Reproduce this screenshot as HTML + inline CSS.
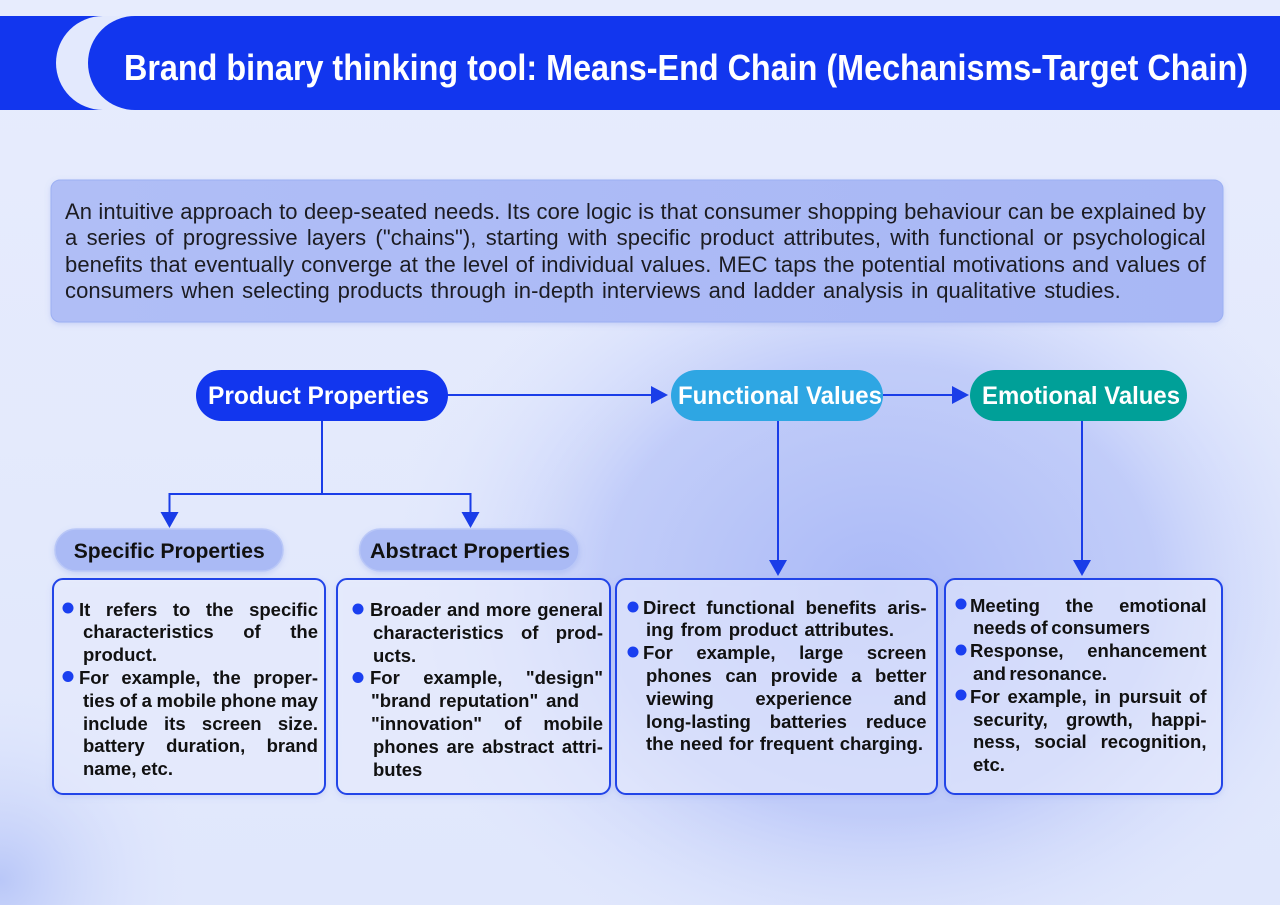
<!DOCTYPE html>
<html><head><meta charset="utf-8">
<style>
html,body{margin:0;padding:0;}
body{width:1280px;height:905px;position:relative;overflow:hidden;background:#e6ebfd;font-family:"Liberation Sans",sans-serif;}
svg{position:absolute;left:0;top:0;}
.l{position:absolute;height:23px;line-height:23px;font-weight:bold;font-size:18.5px;color:#111;white-space:nowrap;}
.j{display:flex;justify-content:space-between;}
.j span{white-space:nowrap;}
.d{position:absolute;height:26px;line-height:26px;font-size:22px;letter-spacing:0.1px;color:#1c1c22;white-space:nowrap;}
</style></head>
<body>
<svg width="1280" height="905" viewBox="0 0 1280 905" xmlns="http://www.w3.org/2000/svg">
<defs>
<linearGradient id="bg" x1="0" y1="0" x2="0" y2="1">
<stop offset="0" stop-color="#e7ecfd"/><stop offset="1" stop-color="#e0e7fc"/>
</linearGradient>
<radialGradient id="g1" cx="880" cy="590" r="460" gradientUnits="userSpaceOnUse" gradientTransform="translate(880 590) scale(1.1 0.9) translate(-880 -590)">
<stop offset="0" stop-color="#aab9f7" stop-opacity="1"/>
<stop offset="0.55" stop-color="#b6c3f8" stop-opacity="0.75"/>
<stop offset="1" stop-color="#e3e9fd" stop-opacity="0"/>
</radialGradient>
<radialGradient id="g2" cx="0" cy="880" r="210" gradientUnits="userSpaceOnUse">
<stop offset="0" stop-color="#b9c7f8" stop-opacity="1"/>
<stop offset="1" stop-color="#e3e9fd" stop-opacity="0"/>
</radialGradient>
<linearGradient id="desc" x1="0" y1="0" x2="1" y2="0">
<stop offset="0" stop-color="#b0bef6"/><stop offset="1" stop-color="#a8b7f5"/>
</linearGradient>
<filter id="sh" x="-10%" y="-20%" width="120%" height="150%">
<feDropShadow dx="0" dy="2" stdDeviation="3" flood-color="#6f86e0" flood-opacity="0.25"/>
</filter>
</defs>
<rect width="1280" height="905" fill="url(#bg)"/>
<rect width="1280" height="905" fill="url(#g1)"/>
<rect width="1280" height="905" fill="url(#g2)"/>

<!-- header -->
<rect x="0" y="16" width="120" height="94" fill="#1236ee"/>
<path d="M103 16 H1280 V110 H103 A47 47 0 0 1 103 16 Z" fill="#e3e9fd"/>
<path d="M135 16 H1280 V110 H135 A47 47 0 0 1 135 16 Z" fill="#1236ee"/>
<text x="124" y="80" font-family="Liberation Sans, sans-serif" font-weight="bold" font-size="36" fill="#ffffff" textLength="1124" lengthAdjust="spacingAndGlyphs">Brand binary thinking tool: Means-End Chain (Mechanisms-Target Chain)</text>

<!-- description box -->
<rect x="51" y="180" width="1172" height="142" rx="9" fill="url(#desc)" stroke="#9cb0f3" stroke-width="1" filter="url(#sh)"/>

<!-- connectors -->
<g stroke="#1a3de8" stroke-width="2" fill="none">
<line x1="447" y1="395" x2="653" y2="395"/>
<line x1="883" y1="395" x2="953" y2="395"/>
<polyline points="322,421 322,494"/>
<polyline points="169.5,513 169.5,494 470.5,494 470.5,513"/>
<line x1="778" y1="421" x2="778" y2="561"/>
<line x1="1082" y1="421" x2="1082" y2="561"/>
</g>
<g fill="#1a3de8">
<polygon points="651,386 668,395 651,404"/>
<polygon points="952,386 969,395 952,404"/>
<polygon points="160.5,512 178.5,512 169.5,528"/>
<polygon points="461.5,512 479.5,512 470.5,528"/>
<polygon points="769,560 787,560 778,576"/>
<polygon points="1073,560 1091,560 1082,576"/>
</g>

<!-- main nodes -->
<rect x="196" y="370" width="252" height="51" rx="25.5" fill="#1236ee"/>
<rect x="671" y="370" width="212" height="51" rx="25.5" fill="#2ea6e3"/>
<rect x="970" y="370" width="217" height="51" rx="25.5" fill="#00a098"/>
<g font-family="Liberation Sans, sans-serif" font-weight="bold" font-size="25" fill="#ffffff">
<text x="208" y="404" textLength="221" lengthAdjust="spacingAndGlyphs">Product Properties</text>
<text x="678" y="404" textLength="204" lengthAdjust="spacingAndGlyphs">Functional Values</text>
<text x="982" y="404" textLength="198" lengthAdjust="spacingAndGlyphs">Emotional Values</text>
</g>

<!-- sub nodes -->
<rect x="55" y="529" width="228" height="42" rx="21" fill="#aabaf5" stroke="#b9c7f7" stroke-width="1.5" filter="url(#sh)"/>
<rect x="359.5" y="529" width="219.5" height="42" rx="21" fill="#aabaf5" stroke="#b9c7f7" stroke-width="1.5" filter="url(#sh)"/>
<g font-family="Liberation Sans, sans-serif" font-weight="bold" font-size="21.5" fill="#111">
<text x="73.7" y="558" textLength="191" lengthAdjust="spacingAndGlyphs">Specific Properties</text>
<text x="370" y="558" textLength="200" lengthAdjust="spacingAndGlyphs">Abstract Properties</text>
</g>

<!-- boxes -->
<g stroke="#2445e8" stroke-width="2" fill="#eef2ff" fill-opacity="0.55" filter="url(#sh)">
<rect x="53" y="579" width="272" height="215" rx="10"/>
<rect x="337" y="579" width="273" height="215" rx="10"/>
<rect x="616" y="579" width="321" height="215" rx="10"/>
<rect x="945" y="579" width="277" height="215" rx="10"/>
</g>

<!-- bullets -->
<g fill="#1a3ff0">
<circle cx="68" cy="608" r="5.5"/>
<circle cx="68" cy="676.5" r="5.5"/>
<circle cx="358" cy="609" r="5.5"/>
<circle cx="358" cy="677.5" r="5.5"/>
<circle cx="633" cy="607" r="5.5"/>
<circle cx="633" cy="652" r="5.5"/>
<circle cx="961" cy="604" r="5.5"/>
<circle cx="961" cy="650" r="5.5"/>
<circle cx="961" cy="695" r="5.5"/>
</g>
</svg>

<!-- description text -->
<div class="d j" style="left:65px;top:199px;width:1141px;"><span>An</span><span>intuitive</span><span>approach</span><span>to</span><span>deep-seated</span><span>needs.</span><span>Its</span><span>core</span><span>logic</span><span>is</span><span>that</span><span>consumer</span><span>shopping</span><span>behaviour</span><span>can</span><span>be</span><span>explained</span><span>by</span></div>
<div class="d j" style="left:65px;top:225.3px;width:1141px;"><span>a</span><span>series</span><span>of</span><span>progressive</span><span>layers</span><span>("chains"),</span><span>starting</span><span>with</span><span>specific</span><span>product</span><span>attributes,</span><span>with</span><span>functional</span><span>or</span><span>psychological</span></div>
<div class="d j" style="left:65px;top:251.7px;width:1141px;"><span>benefits</span><span>that</span><span>eventually</span><span>converge</span><span>at</span><span>the</span><span>level</span><span>of</span><span>individual</span><span>values.</span><span>MEC</span><span>taps</span><span>the</span><span>potential</span><span>motivations</span><span>and</span><span>values</span><span>of</span></div>
<div class="d j" style="left:65px;top:278px;width:1056px;"><span>consumers</span><span>when</span><span>selecting</span><span>products</span><span>through</span><span>in-depth</span><span>interviews</span><span>and</span><span>ladder</span><span>analysis</span><span>in</span><span>qualitative</span><span>studies.</span></div>

<!-- box 1 -->
<div class="l j" style="left:79px;top:597.5px;width:239px;"><span>It</span><span>refers</span><span>to</span><span>the</span><span>specific</span></div>
<div class="l j" style="left:83px;top:620.3px;width:235px;"><span>characteristics</span><span>of</span><span>the</span></div>
<div class="l" style="left:83px;top:643.1px;">product.</div>
<div class="l j" style="left:79px;top:665.9px;width:239px;"><span>For</span><span>example,</span><span>the</span><span>proper-</span></div>
<div class="l j" style="left:83px;top:688.7px;width:235px;"><span>ties</span><span>of</span><span>a</span><span>mobile</span><span>phone</span><span>may</span></div>
<div class="l j" style="left:83px;top:711.5px;width:235px;"><span>include</span><span>its</span><span>screen</span><span>size.</span></div>
<div class="l j" style="left:83px;top:734.3px;width:235px;"><span>battery</span><span>duration,</span><span>brand</span></div>
<div class="l j" style="left:83px;top:757.1px;width:90px;"><span>name,</span><span>etc.</span></div>

<!-- box 2 -->
<div class="l j" style="left:370px;top:598px;width:233px;"><span>Broader</span><span>and</span><span>more</span><span>general</span></div>
<div class="l j" style="left:373px;top:620.8px;width:230px;"><span>characteristics</span><span>of</span><span>prod-</span></div>
<div class="l" style="left:373px;top:643.6px;">ucts.</div>
<div class="l j" style="left:370px;top:666.4px;width:233px;"><span>For</span><span>example,</span><span>"design"</span></div>
<div class="l j" style="left:371px;top:689.2px;width:208px;"><span>"brand</span><span>reputation"</span><span>and</span></div>
<div class="l j" style="left:371px;top:712px;width:232px;"><span>"innovation"</span><span>of</span><span>mobile</span></div>
<div class="l j" style="left:373px;top:734.8px;width:230px;"><span>phones</span><span>are</span><span>abstract</span><span>attri-</span></div>
<div class="l" style="left:373px;top:757.6px;">butes</div>

<!-- box 3 -->
<div class="l j" style="left:643px;top:595.5px;width:283.5px;"><span>Direct</span><span>functional</span><span>benefits</span><span>aris-</span></div>
<div class="l j" style="left:646px;top:618.3px;width:248px;"><span>ing</span><span>from</span><span>product</span><span>attributes.</span></div>
<div class="l j" style="left:643px;top:641.1px;width:283.5px;"><span>For</span><span>example,</span><span>large</span><span>screen</span></div>
<div class="l j" style="left:646px;top:663.9px;width:280.5px;"><span>phones</span><span>can</span><span>provide</span><span>a</span><span>better</span></div>
<div class="l j" style="left:646px;top:686.7px;width:280.5px;"><span>viewing</span><span>experience</span><span>and</span></div>
<div class="l j" style="left:646px;top:709.5px;width:280.5px;"><span>long-lasting</span><span>batteries</span><span>reduce</span></div>
<div class="l j" style="left:646px;top:732.3px;width:277px;"><span>the</span><span>need</span><span>for</span><span>frequent</span><span>charging.</span></div>

<!-- box 4 -->
<div class="l j" style="left:970px;top:593.5px;width:236.5px;"><span>Meeting</span><span>the</span><span>emotional</span></div>
<div class="l j" style="left:973px;top:616.3px;width:177px;"><span>needs</span><span>of</span><span>consumers</span></div>
<div class="l j" style="left:970px;top:639.1px;width:236.5px;"><span>Response,</span><span>enhancement</span></div>
<div class="l j" style="left:973px;top:661.9px;width:134px;"><span>and</span><span>resonance.</span></div>
<div class="l j" style="left:970px;top:684.7px;width:236.5px;"><span>For</span><span>example,</span><span>in</span><span>pursuit</span><span>of</span></div>
<div class="l j" style="left:973px;top:707.5px;width:233.5px;"><span>security,</span><span>growth,</span><span>happi-</span></div>
<div class="l j" style="left:973px;top:730.3px;width:233.5px;"><span>ness,</span><span>social</span><span>recognition,</span></div>
<div class="l" style="left:973px;top:753.1px;">etc.</div>
</body></html>
